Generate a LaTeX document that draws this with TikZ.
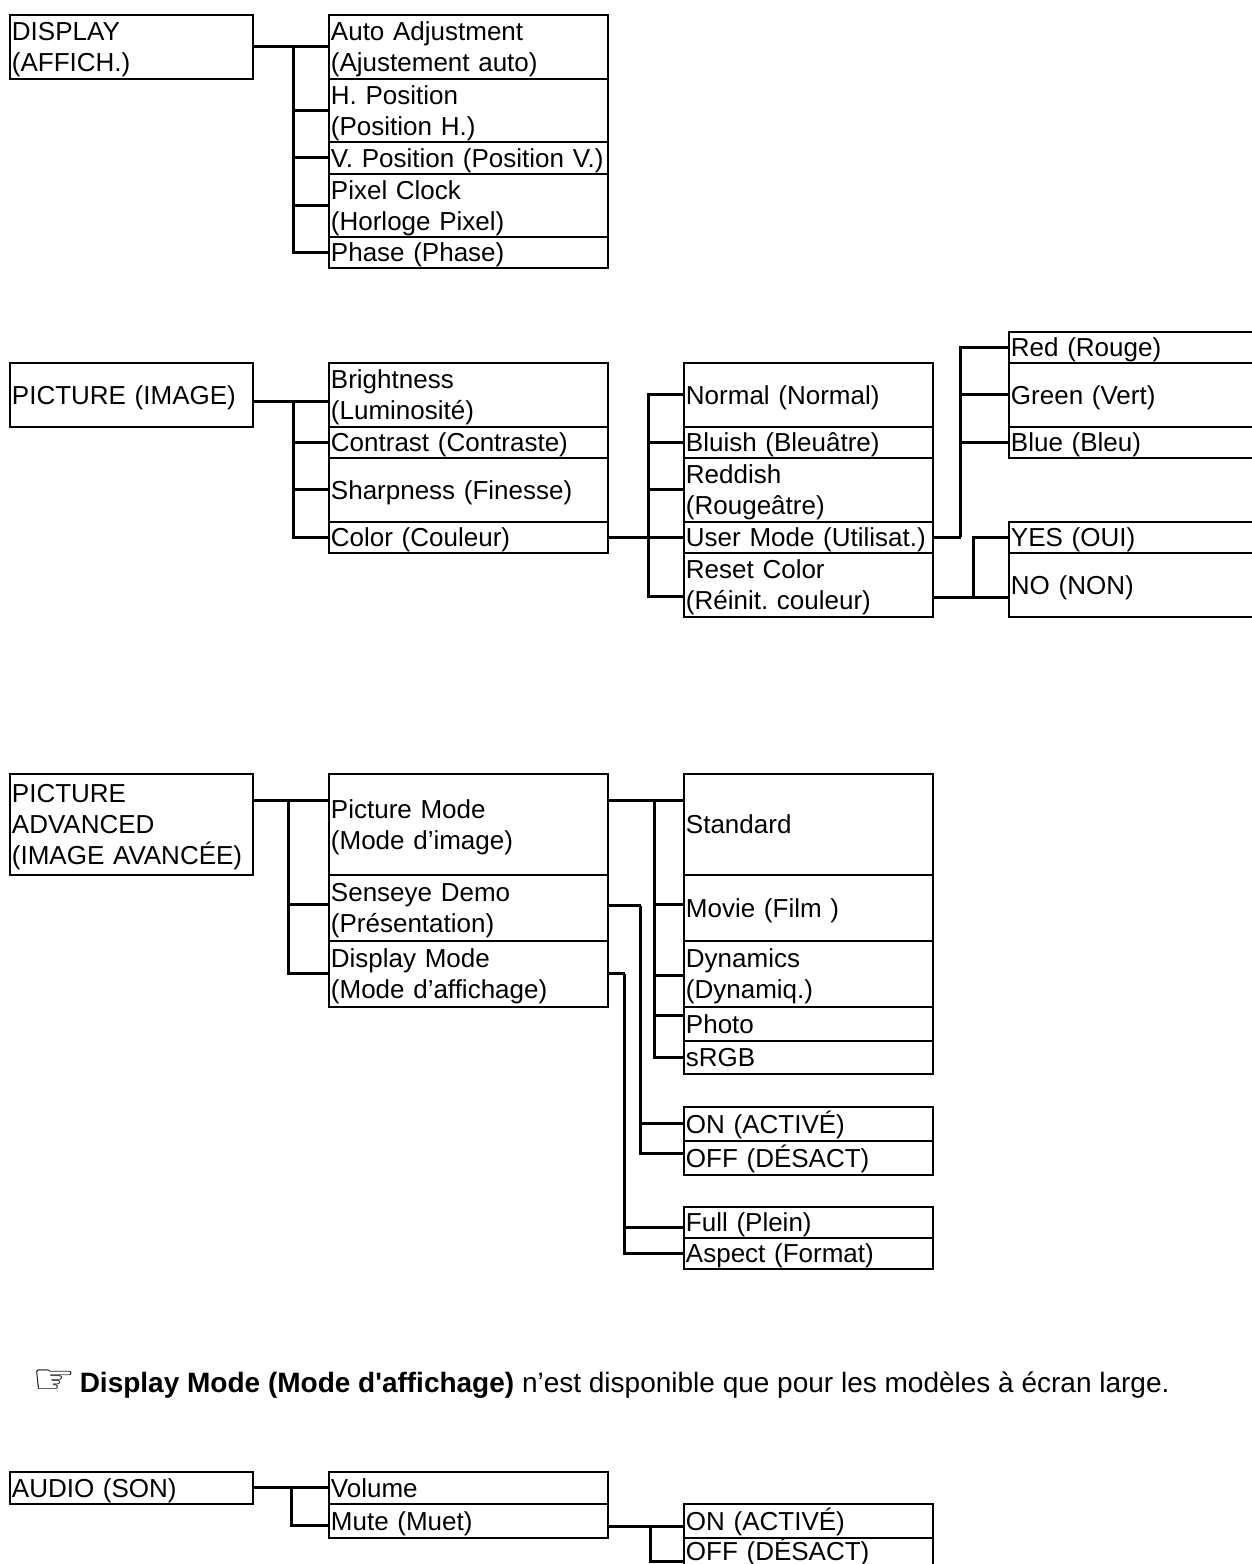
\documentclass[tikz,border=0pt]{standalone}
\usepackage{fontspec}
\setmainfont{Liberation Sans}[Ligatures=TeXOff]
\newfontfamily\dejavu{DejaVu Sans}
\usetikzlibrary{calc}
\frenchspacing
\newcommand\bxfont{\fontsize{26pt}{31pt}\selectfont}
\newcommand\bxstrut{\rule[-6.4pt]{0pt}{31pt}}
\newcommand\shstrut{\rule[-8pt]{0pt}{24pt}}
\begin{document}
\begin{tikzpicture}[x=1pt,y=-1pt,
  bxbase/.style={draw, line width=1.9pt, anchor=north west, inner xsep=2pt, inner ysep=0pt,
    align=left, font=\bxfont},
  bx/.style={bxbase, execute at begin node=\bxstrut, execute at end node=\bxstrut},
  shortbx/.style={bxbase, execute at begin node=\shstrut, execute at end node=\shstrut},
  c1/.style={minimum width=243pt, text width=239pt},
  c2/.style={minimum width=279pt, text width=275pt},
  c3/.style={minimum width=249pt, text width=245pt},
  c4/.style={minimum width=260pt, text width=256pt},
  ln/.style={line width=3pt}]
\useasboundingbox (0,0) rectangle (1252,1564);
\clip (0,0) rectangle (1252,1564);

% ---------- DISPLAY ----------
\node[bx,c1,minimum height=64pt] (disp) at (9,14) {DISPLAY\\(AFFICH.)};
\node[bx,c2,minimum height=64pt] (aa) at (328,14) {Auto Adjustment\\(Ajustement auto)};
\node[bx,c2,minimum height=63pt] (hp) at (328,78) {H. Position\\(Position H.)};
\node[bx,c2,minimum height=32pt] (vp) at (328,141) {\mbox{V. Position (Position V.)}};
\node[bx,c2,minimum height=63pt] (pc) at (328,173) {Pixel Clock\\(Horloge Pixel)};
\node[bx,c2,minimum height=31pt] (ph) at (328,236) {Phase (Phase)};

\draw[ln] (disp.east) -- (aa.west);
\coordinate (t1) at ($(disp.east)+(40,0)$);
\foreach \c in {hp,vp,pc,ph} \draw[ln] (t1) |- (\c.west);

% ---------- PICTURE ----------
\node[bx,c1,minimum height=64pt] (pic) at (9,362) {PICTURE (IMAGE)};
\node[bx,c2,minimum height=64pt] (br) at (328,362) {Brightness\\(Luminosité)};
\node[bx,c2,minimum height=31pt] (ct) at (328,426) {Contrast (Contraste)};
\node[bx,c2,minimum height=64pt] (sh) at (328,457) {Sharpness (Finesse)};
\node[bx,c2,minimum height=31pt] (co) at (328,521) {Color (Couleur)};

\node[bx,c3,minimum height=64pt] (no) at (683,362) {Normal (Normal)};
\node[bx,c3,minimum height=31pt] (bl) at (683,426) {Bluish (Bleuâtre)};
\node[bx,c3,minimum height=64pt] (rd) at (683,457) {Reddish\\(Rougeâtre)};
\node[bx,c3,minimum height=31pt] (um) at (683,521) {\mbox{User Mode (Utilisat.)}};
\node[bx,c3,minimum height=64pt] (rc) at (683,552) {Reset Color\\(Réinit. couleur)};

\node[bx,c4,minimum height=31pt] (red) at (1008,331) {Red (Rouge)};
\node[bx,c4,minimum height=64pt] (grn) at (1008,362) {Green (Vert)};
\node[bx,c4,minimum height=31pt] (blu) at (1008,426) {Blue (Bleu)};
\node[bx,c4,minimum height=31pt] (yes) at (1008,521) {YES (OUI)};
\node[bx,c4,minimum height=64pt] (non) at (1008,552) {NO (NON)};

\draw[ln] ($(pic.east)+(0,7)$) -- ($(br.west)+(0,7)$);
\coordinate (t2) at ($(pic.east)+(40,7)$);
\foreach \c in {ct,sh,co} \draw[ln] (t2) |- (\c.west);

\draw[ln] (co.east) -- (um.west);
\coordinate (t3) at ($(co.east)+(40,0)$);
\foreach \c in {no,bl,rd} \draw[ln] (t3) |- (\c.west);
\draw[ln] (t3) |- ($(rc.west)+(0,12)$);

\coordinate (t4) at ($(um.east)+(27,0)$);
\draw[ln] (um.east) -- (t4);
\foreach \c in {red,grn,blu} \draw[ln] (t4) |- (\c.west);

\draw[ln] ($(rc.east)+(0,12.5)$) -- ($(non.west)+(0,12.5)$);
\coordinate (t5) at ($(rc.east)+(40,12.5)$);
\draw[ln] (t5) |- (yes.west);

% ---------- PICTURE ADVANCED ----------
\node[bx,c1,minimum height=101pt] (pa) at (9,773) {PICTURE\\ADVANCED\\(IMAGE AVANCÉE)};
\node[bx,c2,minimum height=101pt] (pm) at (328,773) {Picture Mode\\(Mode d’image)};
\node[bx,c2,minimum height=66pt] (sd) at (328,874) {Senseye Demo\\(Présentation)};
\node[bx,c2,minimum height=66pt] (dm) at (328,940) {Display Mode\\(Mode d’affichage)};

\node[bx,c3,minimum height=101pt] (st) at (683,773) {Standard};
\node[bx,c3,minimum height=66pt] (mv) at (683,874) {Movie (Film )};
\node[bx,c3,minimum height=66pt] (dy) at (683,940) {Dynamics\\(Dynamiq.)};
\node[bx,c3,minimum height=34pt] (pho) at (683,1006) {Photo};
\node[bx,c3,minimum height=33pt] (srgb) at (683,1040) {sRGB};

\node[bx,c3,minimum height=34pt] (on1) at (683,1106) {ON (ACTIVÉ)};
\node[bx,c3,minimum height=34pt] (off1) at (683,1140) {OFF (DÉSACT)};

\node[bx,c3,minimum height=31pt] (full) at (683,1206) {Full (Plein)};
\node[bx,c3,minimum height=31pt] (asp) at (683,1237) {Aspect (Format)};

\draw[ln] ($(pa.east)+(0,-23.5)$) -- ($(pm.west)+(0,-23.5)$);
\coordinate (t6) at ($(pa.east)+(35,-23.5)$);
\draw[ln] (t6) |- ($(sd.west)+(0,-3)$);
\draw[ln] (t6) |- (dm.west);

\draw[ln] ($(pm.east)+(0,-24)$) -- ($(st.west)+(0,-24)$);
\coordinate (t7) at ($(pm.east)+(46,-24)$);
\draw[ln] (t7) |- ($(mv.west)+(0,-3)$);
\draw[ln] (t7) |- ($(dy.west)+(0,2)$);
\draw[ln] (t7) |- ($(pho.west)+(0,-8)$);
\draw[ln] (t7) |- (srgb.west);

\coordinate (t8) at ($(sd.east)+(32,-2)$);
\draw[ln] ($(sd.east)+(0,-2)$) -- (t8);
\draw[ln] (t8) |- (on1.west);
\draw[ln] (t8) |- ($(off1.west)+(0,-4)$);

\coordinate (t9) at ($(dm.east)+(16,0)$);
\draw[ln] (dm.east) -- (t9);
\draw[ln] (t9) |- ($(full.west)+(0,5.5)$);
\draw[ln] (t9) |- (asp.west);

% ---------- note ----------
\node[anchor=base west, inner sep=0pt, font=\fontsize{28pt}{32pt}\selectfont] (note) at (32,1392)
  {\raisebox{-1pt}{\scalebox{1.35}[1.15]{\dejavu\fontsize{36pt}{36pt}\selectfont ☞}}\hspace{4pt}\textbf{Display Mode (Mode d'affichage)} n’est disponible que pour les modèles à écran large.};

% ---------- AUDIO ----------
\node[bx,c1,minimum height=32pt] (aud) at (9,1471) {AUDIO (SON)};
\node[bx,c2,minimum height=32pt] (vol) at (328,1471) {Volume};
\node[bx,c2,minimum height=34pt] (mute) at (328,1503) {Mute (Muet)};
\node[bx,c3,minimum height=34pt] (on2) at (683,1503) {ON (ACTIVÉ)};
\node[shortbx,c3,minimum height=25pt] (off2) at (683,1537) {OFF (DÉSACT)};

\draw[ln] (aud.east) -- (vol.west);
\coordinate (t10) at ($(aud.east)+(38,0)$);
\draw[ln] (t10) |- ($(mute.west)+(0,5)$);

\draw[ln] ($(mute.east)+(0,6)$) -- ($(on2.west)+(0,6)$);
\coordinate (t11) at ($(mute.east)+(42,6)$);
\draw[ln] (t11) |- ($(off2.west)+(0,8)$);
\end{tikzpicture}
\end{document}
